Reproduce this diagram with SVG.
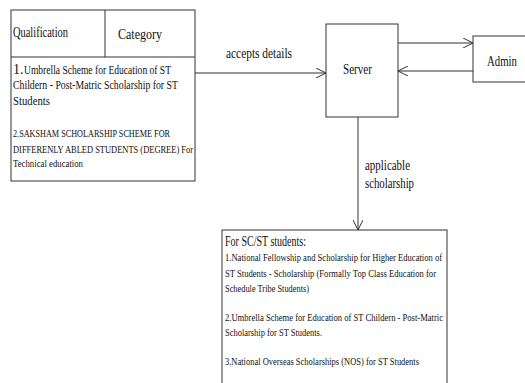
<svg xmlns="http://www.w3.org/2000/svg" width="525" height="383" viewBox="0 0 525 383">
<style>
.box{fill:#fff;stroke:#333;stroke-width:1}
.ln{fill:none;stroke:#333;stroke-width:1}
text{font-family:"Liberation Serif","Times New Roman",serif;fill:#111}
.h{font-size:14px}
.b{font-size:12px}
.s{font-size:10.5px}
</style>
<defs>
<marker id="arr" viewBox="0 0 10 10" refX="10" refY="5" markerWidth="10" markerHeight="10" markerUnits="userSpaceOnUse" orient="auto">
<path d="M0,0 L10,5 L0,10" fill="none" stroke="#333" stroke-width="1"/>
</marker>
</defs>
<rect width="525" height="383" fill="#fff"/>
<g id="connectors">
<line class="ln" x1="195" y1="73" x2="326" y2="73" marker-end="url(#arr)"/>
<line class="ln" x1="398" y1="43" x2="473" y2="43" marker-end="url(#arr)"/>
<line class="ln" x1="473" y1="71" x2="398" y2="71" marker-end="url(#arr)"/>
<line class="ln" x1="358" y1="117" x2="358" y2="230" marker-end="url(#arr)"/>
<text class="h" x="226" y="58" textLength="66" lengthAdjust="spacingAndGlyphs">accepts details</text>
<text class="h" x="365" y="170" textLength="45" lengthAdjust="spacingAndGlyphs">applicable</text>
<text class="h" x="365" y="188" textLength="49" lengthAdjust="spacingAndGlyphs">scholarship</text>
</g>
<g id="qualification">
<rect class="box" x="11" y="10" width="184" height="171"/>
<line class="ln" x1="11" y1="57" x2="195" y2="57"/>
<line class="ln" x1="105" y1="10" x2="105" y2="57"/>
<text class="h" x="13" y="37" textLength="55" lengthAdjust="spacingAndGlyphs">Qualification</text>
<text class="h" x="118" y="39" textLength="44" lengthAdjust="spacingAndGlyphs">Category</text>
<text x="13" y="74" font-size="14px">1.</text>
<text class="b" x="24" y="74" textLength="147" lengthAdjust="spacingAndGlyphs">Umbrella Scheme for Education of ST</text>
<text class="b" x="13" y="89" textLength="165" lengthAdjust="spacingAndGlyphs">Childern - Post-Matric Scholarship for ST</text>
<text class="b" x="13" y="105" textLength="37" lengthAdjust="spacingAndGlyphs">Students</text>
<text class="s" x="13" y="137" textLength="157" lengthAdjust="spacingAndGlyphs">2.SAKSHAM SCHOLARSHIP SCHEME FOR</text>
<text class="s" x="13" y="153" textLength="180" lengthAdjust="spacingAndGlyphs">DIFFERENLY ABLED STUDENTS (DEGREE) For</text>
<text class="s" x="13" y="167" textLength="70" lengthAdjust="spacingAndGlyphs">Technical education</text>
</g>
<g id="server">
<rect class="box" x="326" y="24" width="72" height="93"/>
<text class="h" x="343" y="74" textLength="29" lengthAdjust="spacingAndGlyphs">Server</text>
</g>
<g id="admin">
<rect class="box" x="473" y="36" width="60" height="46"/>
<text class="h" x="487" y="66" textLength="30" lengthAdjust="spacingAndGlyphs">Admin</text>
</g>
<g id="scholarships">
<rect class="box" x="222" y="230" width="225" height="160"/>
<text class="h" x="225" y="246" textLength="81" lengthAdjust="spacingAndGlyphs">For SC/ST students:</text>
<text class="s" x="225" y="261" textLength="217" lengthAdjust="spacingAndGlyphs">1.National Fellowship and Scholarship for Higher Education of</text>
<text class="s" x="225" y="277" textLength="211" lengthAdjust="spacingAndGlyphs">ST Students - Scholarship (Formally Top Class Education for</text>
<text class="s" x="225" y="292" textLength="84" lengthAdjust="spacingAndGlyphs">Schedule Tribe Students)</text>
<text class="s" x="225" y="321" textLength="218" lengthAdjust="spacingAndGlyphs">2.Umbrella Scheme for Education of ST Childern - Post-Matric</text>
<text class="s" x="225" y="336" textLength="97" lengthAdjust="spacingAndGlyphs">Scholarship for ST Students.</text>
<text class="s" x="225" y="365" textLength="194" lengthAdjust="spacingAndGlyphs">3.National Overseas Scholarships (NOS) for ST Students</text>
</g>
</svg>
